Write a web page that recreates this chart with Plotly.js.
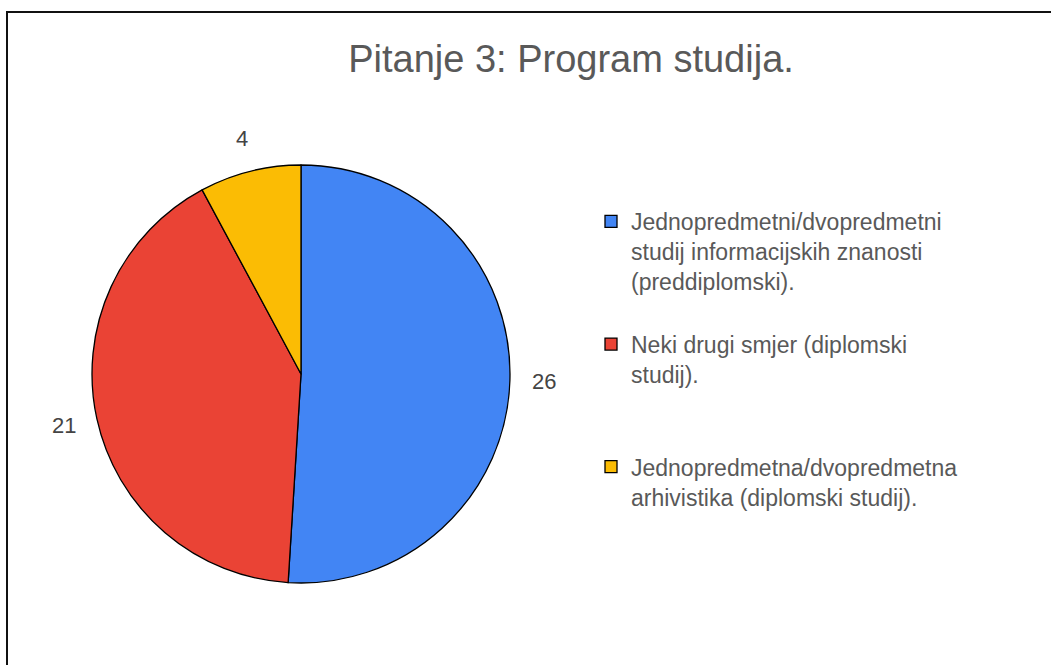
<!DOCTYPE html>
<html>
<head>
<meta charset="utf-8">
<script src="https://cdn.plot.ly/plotly-3.0.1.min.js"></script>
<style>
  html, body { margin: 0; padding: 0; background: #fff; overflow: hidden; }
  #chart { width: 1051px; height: 665px; }
</style>
</head>
<body>
<div id="chart"></div>
<script>
// ---- data ----
const chartTitle = "Pitanje 3: Program studija.";
const categories = [
  "Jednopredmetni/dvopredmetni<br>studij informacijskih znanosti<br>(preddiplomski).",
  "Neki drugi smjer (diplomski<br>studij).",
  "Jednopredmetna/dvopredmetna<br>arhivistika (diplomski studij)."
];
const values = [26, 21, 4];
const colors = ["#4285F4", "#EA4335", "#FBBC04"];

// ---- layout geometry (pixels) ----
const W = 1051, H = 665;
const cx = 301, cy = 374, R = 209;
const labelR = 243;

// pad legend entries to equal line count for spacing like the reference
const padLines = 4;
const legendLabels = categories.map(function (c) {
  const n = c.split("<br>").length;
  let s = c;
  for (let i = n; i < padLines; i++) s += "<br>\u00a0";
  return s;
});

// value labels positioned outside each slice, computed from the data
const total = values.reduce(function (a, b) { return a + b; }, 0);
let cum = 0;
const annotations = values.map(function (v) {
  const mid = (cum + v / 2) / total * 2 * Math.PI;
  cum += v;
  const px = cx + labelR * Math.sin(mid);
  const py = cy - labelR * Math.cos(mid);
  return {
    text: String(v), showarrow: false,
    xref: "paper", yref: "paper",
    x: px / W, y: 1 - py / H, xanchor: "center", yanchor: "middle",
    font: { family: "Liberation Sans, Arial, sans-serif", size: 22, color: "#444444" }
  };
});

const trace = {
  type: "pie",
  labels: legendLabels,
  values: values,
  sort: false,
  direction: "clockwise",
  rotation: 0,
  textinfo: "none",
  hoverinfo: "label+value",
  marker: { colors: colors, line: { color: "#000000", width: 1.3 } },
  domain: { x: [(cx - R) / W, (cx + R) / W], y: [1 - (cy + R) / H, 1 - (cy - R) / H] }
};

const layout = {
  width: W, height: H,
  margin: { l: 0, r: 0, t: 0, b: 0, pad: 0 },
  paper_bgcolor: "#ffffff",
  plot_bgcolor: "#ffffff",
  font: { family: "Liberation Sans, Arial, sans-serif", color: "#595959" },
  title: {
    text: chartTitle,
    x: 571 / W, xanchor: "center", xref: "paper",
    y: 1 - 59 / H, yanchor: "middle", yref: "container",
    font: { family: "Liberation Sans, Arial, sans-serif", size: 38, color: "#595959" }
  },
  showlegend: true,
  legend: {
    x: 591 / W, xanchor: "left",
    y: 1 - 200 / H, yanchor: "top",
    valign: "top",
    borderwidth: 0,
    bgcolor: "rgba(0,0,0,0)",
    font: { family: "Liberation Sans, Arial, sans-serif", size: 23, color: "#595959" }
  },
  annotations: annotations,
  shapes: [
    { type: "line", xref: "paper", yref: "paper", x0: 7 / W, x1: 7 / W, y0: 1 - 11 / H, y1: -0.05,
      line: { color: "#111111", width: 2 } },
    { type: "line", xref: "paper", yref: "paper", x0: 6 / W, x1: 1.05, y0: 1 - 12 / H, y1: 1 - 12 / H,
      line: { color: "#111111", width: 2 } }
  ]
};

Plotly.newPlot("chart", [trace], layout, { displayModeBar: false, staticPlot: true });
</script>
</body>
</html>
